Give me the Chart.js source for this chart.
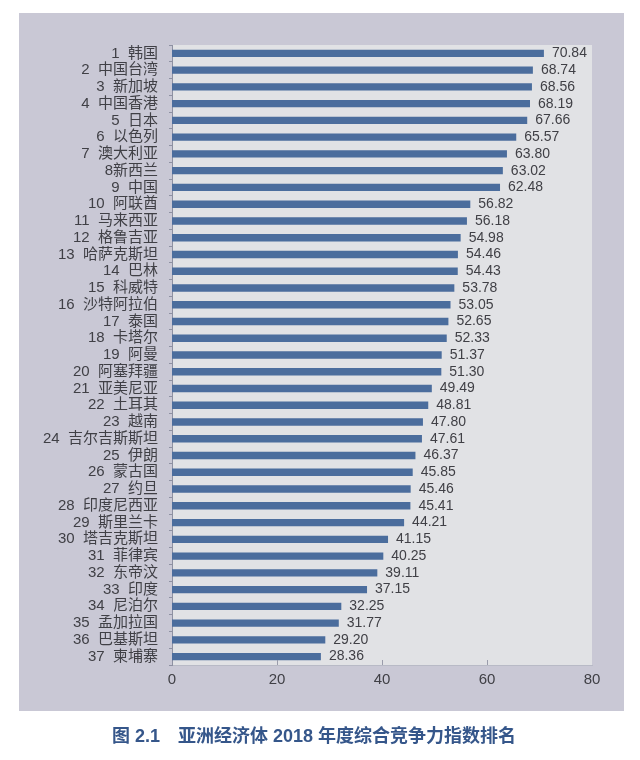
<!DOCTYPE html>
<html>
<head>
<meta charset="utf-8">
<script src="https://cdn.jsdelivr.net/npm/chart.js@4/dist/chart.umd.min.js"></script>
<style>
  html, body { margin: 0; padding: 0; background: #ffffff; }
  #wrap { position: relative; width: 640px; height: 760px; }
</style>
</head>
<body>
<div id="wrap"><canvas id="c" width="640" height="760"></canvas></div>
<script>
// 经济体名称（按排名）
const economies = [
  '1  韩国', '2  中国台湾', '3  新加坡', '4  中国香港', '5  日本', '6  以色列',
  '7  澳大利亚', '8新西兰', '9  中国', '10  阿联酋', '11  马来西亚', '12  格鲁吉亚',
  '13  哈萨克斯坦', '14  巴林', '15  科威特', '16  沙特阿拉伯', '17  泰国', '18  卡塔尔',
  '19  阿曼', '20  阿塞拜疆', '21  亚美尼亚', '22  土耳其', '23  越南', '24  吉尔吉斯斯坦',
  '25  伊朗', '26  蒙古国', '27  约旦', '28  印度尼西亚', '29  斯里兰卡', '30  塔吉克斯坦',
  '31  菲律宾', '32  东帝汶', '33  印度', '34  尼泊尔', '35  孟加拉国', '36  巴基斯坦',
  '37  柬埔寨'
];

// 综合竞争力指数
const scores = [
  70.84, 68.74, 68.56, 68.19, 67.66, 65.57, 63.80, 63.02, 62.48, 56.82,
  56.18, 54.98, 54.46, 54.43, 53.78, 53.05, 52.65, 52.33, 51.37, 51.30,
  49.49, 48.81, 47.80, 47.61, 46.37, 45.85, 45.46, 45.41, 44.21, 41.15,
  40.25, 39.11, 37.15, 32.25, 31.77, 29.20, 28.36
];

// 横轴刻度
const xTicks = [0, 20, 40, 60, 80];

const caption = '图 2.1　亚洲经济体 2018 年度综合竞争力指数排名';

const FONT = '"Liberation Sans", Arial, "Noto Sans CJK SC", sans-serif';
const TEXT = '#404046';

// 背景：外框灰紫色 + 绘图区浅灰，数值标签与标题
const backdrop = {
  id: 'backdrop',
  beforeDraw(chart) {
    const { ctx, chartArea: a } = chart;
    ctx.save();
    ctx.fillStyle = '#c9c8d5';
    ctx.fillRect(19, 13, 605, 698);
    ctx.fillStyle = '#e1e2e5';
    ctx.fillRect(a.left, a.top, a.right - a.left, a.bottom - a.top);
    ctx.restore();
  },
  afterDatasetsDraw(chart) {
    const { ctx } = chart;
    const meta = chart.getDatasetMeta(0);
    ctx.save();
    ctx.font = '14px ' + FONT;
    ctx.fillStyle = TEXT;
    ctx.textBaseline = 'middle';
    ctx.textAlign = 'left';
    meta.data.forEach((bar, i) => {
      ctx.fillText(scores[i].toFixed(2), bar.x + 8, bar.y);
    });
    // 横轴内侧刻度
    const xs = chart.scales.x;
    const bottom = chart.chartArea.bottom;
    ctx.strokeStyle = '#9a9cab';
    ctx.lineWidth = 1;
    xTicks.slice(1, -1).forEach((v) => {
      const px = Math.round(xs.getPixelForValue(v)) + 0.5;
      ctx.beginPath();
      ctx.moveTo(px, bottom);
      ctx.lineTo(px, bottom - 5);
      ctx.stroke();
    });
    ctx.restore();
  },
  afterDraw(chart) {
    const { ctx } = chart;
    ctx.save();
    ctx.font = 'bold 18px "Liberation Sans", "Noto Sans CJK SC", sans-serif';
    ctx.fillStyle = '#35568a';
    ctx.textAlign = 'left';
    ctx.textBaseline = 'middle';
    ctx.fillText(caption, 112, 737);
    ctx.restore();
  },
};

new Chart(document.getElementById('c').getContext('2d'), {
  type: 'bar',
  data: {
    labels: economies,
    datasets: [
      {
        data: scores,
        backgroundColor: '#4b6d9d',
        borderWidth: 0,
        categoryPercentage: 1,
        barPercentage: 0.44,
      },
    ],
  },
  options: {
    indexAxis: 'y',
    responsive: false,
    animation: false,
    devicePixelRatio: 1,
    layout: { padding: { left: 0, right: 48, top: 45, bottom: 0 } },
    plugins: {
      legend: { display: false },
      tooltip: { enabled: false },
    },
    scales: {
      x: {
        min: 0,
        max: 80,
        afterBuildTicks: (s) => { s.ticks = xTicks.map((v) => ({ value: v })); },
        afterFit: (s) => { s.height = 95; },
        grid: { display: false, drawTicks: false },
        border: { display: true, color: '#b8bac6' },
        ticks: { color: TEXT, font: { size: 15, family: FONT }, padding: 6 },
      },
      y: {
        afterFit: (s) => { s.width = 172; },
        grid: {
          offset: true,
          drawOnChartArea: false,
          drawTicks: true,
          tickLength: 3,
          color: '#8e91a2',
        },
        border: { display: true, color: '#8e91a2' },
        ticks: {
          color: TEXT,
          font: { size: 15, family: FONT },
          padding: 11,
          autoSkip: false,
        },
      },
    },
  },
  plugins: [backdrop],
});
</script>
</body>
</html>
